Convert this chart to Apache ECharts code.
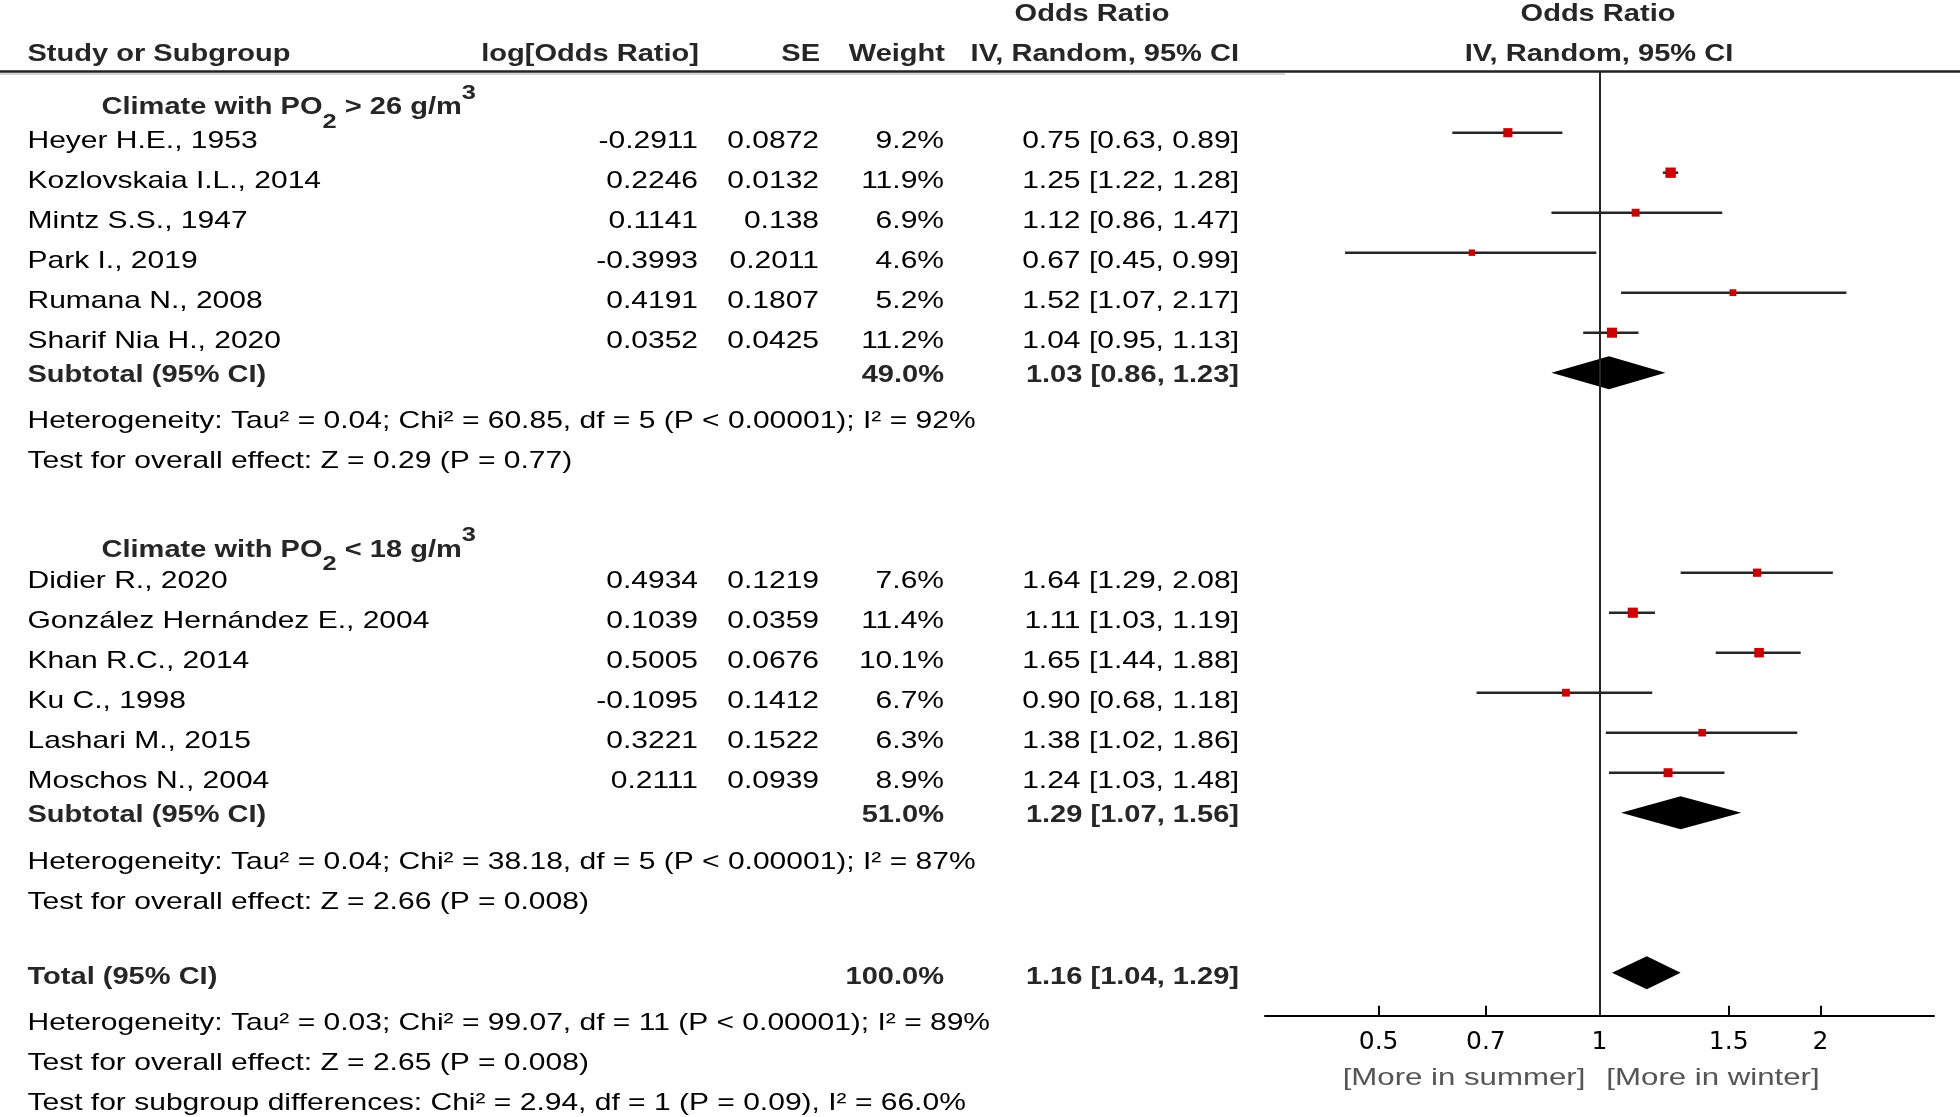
<!DOCTYPE html>
<html><head><meta charset="utf-8">
<script src="https://cdn.jsdelivr.net/npm/echarts@6/dist/echarts.min.js"></script>
<style>html,body{margin:0;padding:0;background:#fff}#c{width:1960px;height:1117px}</style>
</head><body><div id="c"></div>
<script>
// ---------- data ----------
const studyNames = ['Heyer H.E., 1953','Kozlovskaia I.L., 2014','Mintz S.S., 1947','Park I., 2019','Rumana N., 2008','Sharif Nia H., 2020',
  'Didier R., 2020','González Hernández E., 2004','Khan R.C., 2014','Ku C., 1998','Lashari M., 2015','Moschos N., 2004'];
const logOddsRatio = ['-0.2911','0.2246','0.1141','-0.3993','0.4191','0.0352','0.4934','0.1039','0.5005','-0.1095','0.3221','0.2111'];
const seValues = ['0.0872','0.0132','0.138','0.2011','0.1807','0.0425','0.1219','0.0359','0.0676','0.1412','0.1522','0.0939'];
const weights = [9.2, 11.9, 6.9, 4.6, 5.2, 11.2, 7.6, 11.4, 10.1, 6.7, 6.3, 8.9];
const oddsRatios = [0.75, 1.25, 1.12, 0.67, 1.52, 1.04, 1.64, 1.11, 1.65, 0.90, 1.38, 1.24];
const ciLow = [0.63, 1.22, 0.86, 0.45, 1.07, 0.95, 1.29, 1.03, 1.44, 0.68, 1.02, 1.03];
const ciHigh = [0.89, 1.28, 1.47, 0.99, 2.17, 1.13, 2.08, 1.19, 1.88, 1.18, 1.86, 1.48];
const studyRows = [0, 1, 2, 3, 4, 5, 11, 12, 13, 14, 15, 16];

const pooledLabels = ['Subtotal (95% CI)', 'Subtotal (95% CI)', 'Total (95% CI)'];
const pooledWeights = ['49.0%', '51.0%', '100.0%'];
const pooledOR = [1.03, 1.29, 1.16];
const pooledLow = [0.86, 1.07, 1.04];
const pooledHigh = [1.23, 1.56, 1.29];
const pooledRows = [6, 17, 21];

const statLines = [
  'Heterogeneity: Tau\u00b2 = 0.04; Chi\u00b2 = 60.85, df = 5 (P < 0.00001); I\u00b2 = 92%',
  'Test for overall effect: Z = 0.29 (P = 0.77)',
  'Heterogeneity: Tau\u00b2 = 0.04; Chi\u00b2 = 38.18, df = 5 (P < 0.00001); I\u00b2 = 87%',
  'Test for overall effect: Z = 2.66 (P = 0.008)',
  'Heterogeneity: Tau\u00b2 = 0.03; Chi\u00b2 = 99.07, df = 11 (P < 0.00001); I\u00b2 = 89%',
  'Test for overall effect: Z = 2.65 (P = 0.008)',
  'Test for subgroup differences: Chi\u00b2 = 2.94, df = 1 (P = 0.09), I\u00b2 = 66.0%'
];
const statLineY = [421, 461, 862, 902, 1023.5, 1063.5, 1103.5];
const subgroupTitles = [['Climate with PO', '2', ' > 26 g/m', '3'], ['Climate with PO', '2', ' < 18 g/m', '3']];
const subgroupTitleY = [107.5, 550];
const xTicks = [0.5, 0.7, 1, 1.5, 2];
const xAxisNotes = ['[More in summer]', '[More in winter]'];

// ---------- chart ----------
const FONT = '"Liberation Sans", Arial, sans-serif';
const SX = 1.25;
const REG = '24px ' + FONT;
const BOLD = 'bold 24px ' + FONT;
const BOLDC = '#262626';

const studyData = studyNames.map((n, i) => [oddsRatios[i], ciLow[i], ciHigh[i], studyRows[i], weights[i]]);
const pooledData = pooledOR.map((v, i) => [v, pooledLow[i], pooledHigh[i], pooledRows[i]]);

const chart = echarts.init(document.getElementById('c'), null, {renderer: 'canvas'});
const option = {
  animation: false,
  backgroundColor: '#fff',
  grid: {left: 1265, top: 71.7, width: 669, height: 944, containLabel: false, outerBoundsMode: 'none'},
  xAxis: {
    type: 'log', logBase: 10, min: 0.35, max: 2.857, position: 'bottom',
    axisLine: {show: true, onZero: false, lineStyle: {color: '#000', width: 2}},
    axisTick: {show: true, inside: true, length: 10, customValues: xTicks, lineStyle: {color: '#000', width: 2}},
    axisLabel: {customValues: xTicks, margin: 14, fontFamily: 'DejaVu Sans', fontSize: 25, color: '#000',
      formatter: v => String(Math.round(v * 100) / 100)},
    splitLine: {show: false}
  },
  yAxis: {type: 'value', inverse: true, min: -1.525, max: 22.075, show: false},
  series: [
    {
      type: 'custom', data: studyData, encode: {x: [0, 1, 2], y: 3}, silent: true,
      renderItem: (params, api) => {
        const row = api.value(3);
        const lo = api.coord([api.value(1), row]);
        const hi = api.coord([api.value(2), row]);
        const c = api.coord([api.value(0), row]);
        const s = 3 * Math.sqrt(api.value(4));
        return {type: 'group', children: [
          {type: 'line', shape: {x1: lo[0], y1: lo[1], x2: hi[0], y2: hi[1]}, style: {stroke: '#262626', lineWidth: 2.5}},
          {type: 'rect', shape: {x: c[0] - s / 2, y: c[1] - s / 2, width: s, height: s}, style: {fill: '#cc0000'}}
        ]};
      },
      markLine: {silent: true, symbol: 'none', label: {show: false},
        lineStyle: {color: '#262626', width: 2, type: 'solid'}, data: [{xAxis: 1}]}
    },
    {
      type: 'custom', data: pooledData, encode: {x: [0, 1, 2], y: 3}, silent: true,
      renderItem: (params, api) => {
        const row = api.value(3);
        const lo = api.coord([api.value(1), row]);
        const hi = api.coord([api.value(2), row]);
        const c = api.coord([api.value(0), row]);
        const h = 16.5;
        return {type: 'polygon', shape: {points: [[lo[0], c[1]], [c[0], c[1] - h], [hi[0], c[1]], [c[0], c[1] + h]]},
          style: {fill: '#000'}};
      }
    }
  ]
};
chart.setOption(option);

// ---------- table text ----------
function txt(x, y, text, font, align, fill, sx) {
  return {type: 'text', x: x, y: y, scaleX: sx || SX, silent: true, z: 10,
    style: {text: text, font: font, fill: fill || '#000', textAlign: align || 'left', textVerticalAlign: 'middle'}};
}
const rowPx = r => chart.convertToPixel({gridIndex: 0}, [1, r])[1];
const fmtCI = (v, l, h) => v.toFixed(2) + ' [' + l.toFixed(2) + ', ' + h.toFixed(2) + ']';

const COL = {name: 27.5, lor: 698, se: 819, w: 944, ci: 1239};
const g = [];
// header
g.push(txt(27.5, 54, 'Study or Subgroup', BOLD, 'left', BOLDC, 1.21));
g.push(txt(699, 54, 'log[Odds Ratio]', BOLD, 'right', BOLDC, 1.21));
g.push(txt(820, 54, 'SE', BOLD, 'right', BOLDC, 1.21));
g.push(txt(945, 54, 'Weight', BOLD, 'right', BOLDC, 1.21));
g.push(txt(1092, 14, 'Odds Ratio', BOLD, 'center', BOLDC, 1.21));
g.push(txt(1239, 54, 'IV, Random, 95% CI', BOLD, 'right', BOLDC, 1.21));
g.push(txt(1598, 14, 'Odds Ratio', BOLD, 'center', BOLDC, 1.21));
g.push(txt(1599, 54, 'IV, Random, 95% CI', BOLD, 'center', BOLDC, 1.21));
g.push({type: 'line', silent: true, shape: {x1: 0, y1: 71.5, x2: 1960, y2: 71.5}, style: {stroke: '#222', lineWidth: 2.5}});
g.push({type: 'line', silent: true, shape: {x1: 0, y1: 74, x2: 1285, y2: 74}, style: {stroke: '#aaa', lineWidth: 1}});

// subgroup titles
subgroupTitles.forEach((t, i) => {
  g.push({type: 'text', x: 101.5, y: subgroupTitleY[i], scaleX: 1.21, silent: true, z: 10,
    style: {text: '{m|' + t[0] + '}{s|' + t[1] + '}{m|' + t[2] + '}{p|' + t[3] + '}',
      textAlign: 'left', textVerticalAlign: 'middle',
      rich: {
        m: {font: BOLD, fill: BOLDC, lineHeight: 50, verticalAlign: 'middle'},
        s: {font: 'bold 21px ' + FONT, fill: BOLDC, lineHeight: 20, verticalAlign: 'bottom'},
        p: {font: 'bold 21px ' + FONT, fill: BOLDC, lineHeight: 20, verticalAlign: 'top'}
      }}});
});

// studies
studyNames.forEach((n, i) => {
  const y = rowPx(studyRows[i]) + 8.5;
  g.push(txt(COL.name, y, n, REG));
  g.push(txt(COL.lor, y, logOddsRatio[i], REG, 'right'));
  g.push(txt(COL.se, y, seValues[i], REG, 'right'));
  g.push(txt(COL.w, y, weights[i].toFixed(1) + '%', REG, 'right'));
  g.push(txt(COL.ci, y, fmtCI(oddsRatios[i], ciLow[i], ciHigh[i]), REG, 'right'));
});
// pooled
pooledLabels.forEach((n, i) => {
  const y = rowPx(pooledRows[i]) + (i === 2 ? 5 : 3);
  g.push(txt(COL.name, y, n, BOLD, 'left', BOLDC, 1.21));
  g.push(txt(COL.w, y, pooledWeights[i], BOLD, 'right', BOLDC, 1.21));
  g.push(txt(COL.ci, y, fmtCI(pooledOR[i], pooledLow[i], pooledHigh[i]), BOLD, 'right', BOLDC, 1.21));
});
// stats
statLines.forEach((s, i) => g.push(txt(COL.name, statLineY[i], s, REG)));
// axis notes
g.push(txt(1464, 1078, xAxisNotes[0], '24px ' + FONT, 'center', '#555', 1.3));
g.push(txt(1713, 1078, xAxisNotes[1], '24px ' + FONT, 'center', '#555', 1.3));

chart.setOption({graphic: {elements: g}});
</script>
</body></html>
